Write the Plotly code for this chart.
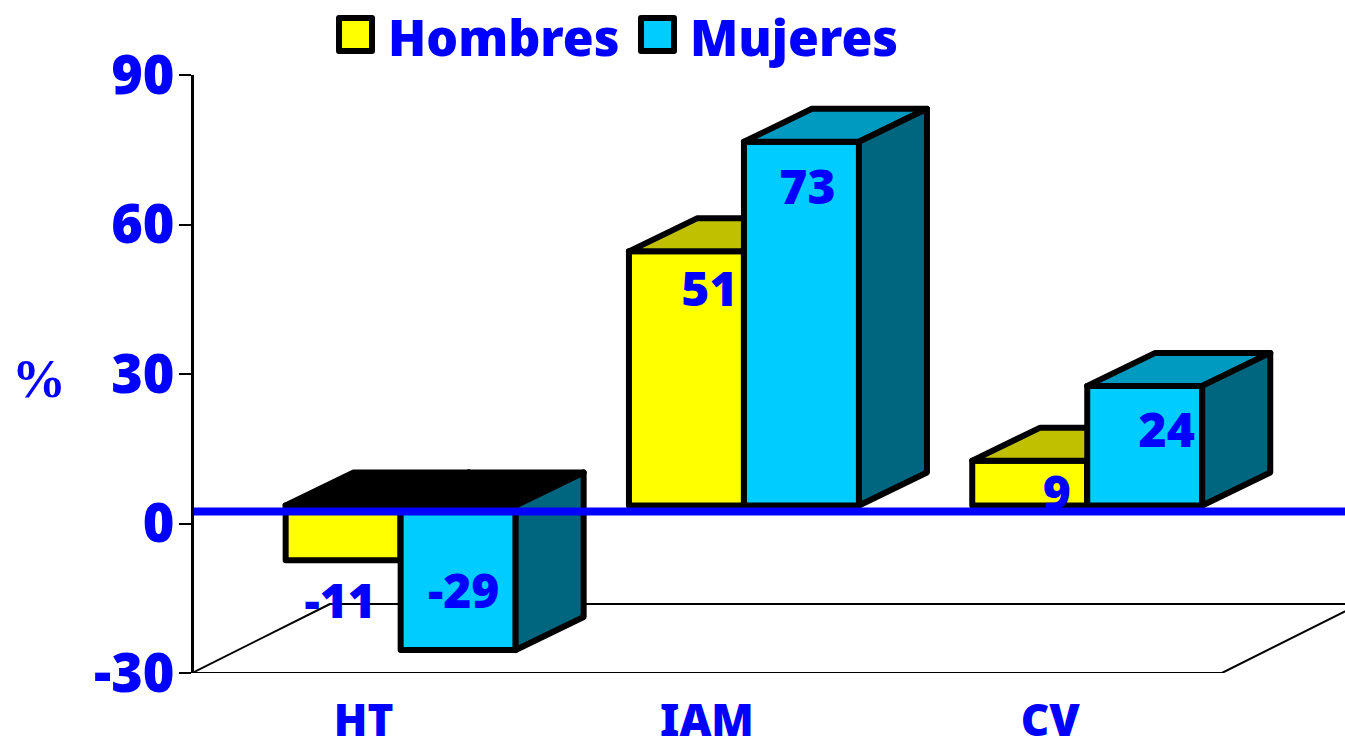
import plotly.graph_objects as go

# ---- data ----
categories = ["HT", "IAM", "CV"]
hombres = [-11, 51, 9]
mujeres = [-29, 73, 24]
series_names = ["Hombres", "Mujeres"]
y_ticks = [-30, 0, 30, 60, 90]
y_tick_text = ["-30", "0", "30", "60", "90"]

# ---- style / layout constants ----
W, H = 1345, 741
ML, MT, MB = 194, 75, 68
PX_X = 343.3            # pixels per category
PX_Y = (H - MT - MB) / 120.0   # pixels per percentage point
BLUE = "#0000FF"
FONT = "Noto Sans"
YEL = ("#FFFF00", "#C0C000", "#A0A000")
CYA = ("#00CCFF", "#0099BF", "#006680")
OUT = 6
BAR_W = 115 / PX_X
CENTER_SHIFT = 37 / PX_X
BASE = 18 / PX_Y        # oblique lift of the bar front plane
DX, DY = 68 / PX_X, 33 / PX_Y   # bar depth
FLOOR_DX, FLOOR_DY = 138 / PX_X, 69 / PX_Y
LABEL_OFF_H = [(-3, 46), (23, 43), (27, 37)]
LABEL_OFF_M = [(5.5, -54), (6, 50), (22, 49)]
X_START = -0.5
XMIN = X_START + (ML - 192) / PX_X
XMAX = XMIN + (W - ML) / PX_X

fig = go.Figure()


def poly(xs, ys, fill):
    fig.add_trace(go.Scatter(
        x=xs + xs[:1], y=ys + ys[:1], mode="lines", fill="toself", fillcolor=fill,
        line=dict(color="black", width=OUT), showlegend=False, hoverinfo="skip",
        cliponaxis=False))


def line(xs, ys, color="black", width=2):
    fig.add_trace(go.Scatter(
        x=xs, y=ys, mode="lines", line=dict(color=color, width=width),
        showlegend=False, hoverinfo="skip", cliponaxis=False))


# floor
line([X_START + FLOOR_DX, X_START, 2.5, 2.5 + FLOOR_DX], [-30 + FLOOR_DY, -30, -30, -30 + FLOOR_DY])
line([X_START + FLOOR_DX, XMAX], [-30 + FLOOR_DY, -30 + FLOOR_DY])

# bars
for values, first, colors in ((hombres, -BAR_W, YEL), (mujeres, 0.0, CYA)):
    for i, v in enumerate(values):
        x0 = i + CENTER_SHIFT + first
        x1 = x0 + BAR_W
        b, t = BASE, BASE + v
        upper = max(b, t)
        poly([x0, x1, x1, x0], [b, b, t, t], colors[0])
        poly([x0, x1, x1 + DX, x0 + DX], [upper, upper, upper + DY, upper + DY],
             colors[1] if v >= 0 else "black")
        poly([x1, x1 + DX, x1 + DX, x1], [b, b + DY, t + DY, t], colors[2])

# baseline
line([X_START, XMAX], [2.4, 2.4], BLUE, 8)

# value labels
lab_x, lab_y, lab_t = [], [], []
for values, first, offs in ((hombres, -BAR_W, LABEL_OFF_H), (mujeres, 0.0, LABEL_OFF_M)):
    for i, v in enumerate(values):
        lab_x.append(i + CENTER_SHIFT + first + BAR_W / 2 + offs[i][0] / PX_X)
        lab_y.append(BASE + v - offs[i][1] / PX_Y)
        lab_t.append(str(v))
fig.add_trace(go.Scatter(
    x=lab_x, y=lab_y, text=lab_t, mode="text", textposition="middle center",
    textfont=dict(family=FONT, size=48, color=BLUE, weight=900),
    showlegend=False, hoverinfo="skip", cliponaxis=False))


def PXX(px):
    return (px - ML) / (W - ML)


def PXY(py):
    return (H - MB - py) / (H - MT - MB)


# legend drawn in paper coordinates above the plot
for cx, col, tx, name in ((355.5, YEL[0], 386, series_names[0]), (657.5, CYA[0], 688, series_names[1])):
    fig.add_shape(type="rect", xref="paper", yref="paper",
                  x0=PXX(cx - 16.5), x1=PXX(cx + 16.5), y0=PXY(51), y1=PXY(18),
                  fillcolor=col, line=dict(color="black", width=6))
    fig.add_annotation(x=PXX(tx), y=PXY(37), xref="paper", yref="paper", text=name,
                       showarrow=False, xanchor="left", yanchor="middle",
                       font=dict(family=FONT, size=50, color=BLUE, weight=900))

fig.add_annotation(
    x=PXX(39), y=PXY(379), xref="paper", yref="paper",
    text="%", showarrow=False, xanchor="center", yanchor="middle",
    font=dict(family="Liberation Serif", size=54, color=BLUE, weight=700))

fig.update_layout(
    width=W, height=H, autosize=False,
    margin=dict(l=ML, r=0, t=MT, b=MB, pad=0),
    paper_bgcolor="white", plot_bgcolor="white",
    showlegend=False,
    xaxis=dict(range=[XMIN, XMAX], tickvals=[0, 1, 2], ticktext=categories,
               showgrid=False, zeroline=False, showline=False, automargin=False,
               ticks="outside", ticklen=9, tickcolor="rgba(0,0,0,0)",
               tickfont=dict(family=FONT, size=44, color=BLUE, weight=900)),
    yaxis=dict(range=[-30, 90], tickvals=y_ticks, ticktext=y_tick_text,
               showgrid=False, zeroline=False, automargin=False,
               showline=True, linecolor="black", linewidth=2.5,
               ticks="outside", ticklen=12, tickwidth=2, tickcolor="black",
               ticklabelstandoff=-6,
               tickfont=dict(family=FONT, size=54, color=BLUE, weight=900)),
)

POST = """
document.body.style.margin = '0';
var s = document.createElement('style');
s.textContent = '.js-line[style*="rgb(0, 0, 0)"], .shapelayer path {stroke-linejoin: round !important; stroke-linecap: round !important;}';
document.head.appendChild(s);
"""

fig.write_html("out.html", post_script=POST, config={"displayModeBar": False})
